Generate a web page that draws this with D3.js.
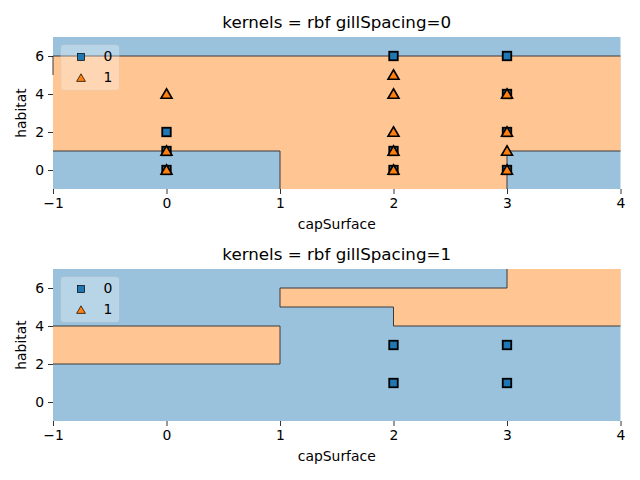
<!DOCTYPE html>
<html><head><meta charset="utf-8">
<script src="https://cdn.jsdelivr.net/npm/d3@7"></script>
<style>body{margin:0;background:#fff}svg{display:block;font-family:"DejaVu Sans",sans-serif}</style>
</head><body>
<script>
// ---- data ----
const titles = ["kernels = rbf gillSpacing=0", "kernels = rbf gillSpacing=1"];
const xLabel = "capSurface";
const yLabel = "habitat";
const xTicks = [-1, 0, 1, 2, 3, 4];
const yTicks = [0, 2, 4, 6];
const xDomain = [-1, 4];
const yDomain = [-1, 7];
const legendLabels = ["0", "1"];

// panel 1 (gillSpacing=0)
const p1Class0 = [[0,2],[0,1],[0,0],[2,6],[2,1],[2,0],[3,6],[3,4],[3,2],[3,0]];
const p1Class1 = [[0,4],[0,1],[0,0],[2,5],[2,4],[2,2],[2,1],[2,0],[3,4],[3,2],[3,1],[3,0]];
const p1Region1 = [[[-1,1],[1,1],[1,-1],[3,-1],[3,1],[4,1],[4,6],[-1,6]]];
const p1Edges = [
  [[-1,6],[4,6]], [[-1,5],[-1,6]],
  [[-1,1],[1,1],[1,-1]], [[3,-1],[3,1],[4,1]]
];
// panel 2 (gillSpacing=1)
const p2Class0 = [[2,3],[2,1],[3,3],[3,1]];
const p2Class1 = [];
const p2Region1 = [
  [[-1,2],[1,2],[1,4],[-1,4]],
  [[1,5],[1,6],[3,6],[3,7],[4,7],[4,4],[2,4],[2,5]]
];
const p2Edges = [
  [[-1,2],[1,2],[1,4],[-1,4]],
  [[4,4],[2,4],[2,5],[1,5],[1,6],[3,6],[3,7]]
];

// ---- drawing ----
const W = 640, H = 480;
const svg = d3.select("body").append("svg").attr("width", W).attr("height", H);
const blueFill = "#9ac2dd", orangeFill = "#ffc592";
const blue = "#1f77b4", orange = "#ff7f0e";

const panels = [
  {top: 37, bottom: 189, c0: p1Class0, c1: p1Class1, regions: p1Region1, edges: p1Edges, title: titles[0]},
  {top: 269, bottom: 421, c0: p2Class0, c1: p2Class1, regions: p2Region1, edges: p2Edges, title: titles[1]}
];
const left = 53, right = 620.5;

const triPath = (s) => { const h = s * 0.5; return `M0,${-h*1.05}L${h*1.1},${h*0.85}L${-h*1.1},${h*0.85}Z`; };

panels.forEach((p, i) => {
  const x = d3.scaleLinear().domain(xDomain).range([left, right]);
  const y = d3.scaleLinear().domain(yDomain).range([p.bottom, p.top]);
  const g = svg.append("g");
  const line = d3.line().x(d => x(d[0])).y(d => y(d[1]));

  g.append("rect").attr("x", x(xDomain[0])).attr("y", y(yDomain[1]))
    .attr("width", x(xDomain[1]) - x(xDomain[0])).attr("height", y(yDomain[0]) - y(yDomain[1]))
    .attr("fill", blueFill);
  p.regions.forEach(r => g.append("path").attr("d", line(r) + "Z").attr("fill", orangeFill));
  p.edges.forEach(e => g.append("path").attr("d", line(e)).attr("fill", "none")
    .attr("stroke", "#3a3a3a").attr("stroke-width", 1));

  // axes
  const xa = g.append("g").attr("transform", `translate(0,${p.bottom})`)
    .call(d3.axisBottom(x).tickValues(xTicks).tickSize(5).tickPadding(4)
      .tickFormat(d => d < 0 ? "\u2212" + Math.abs(d) : d));
  const ya = g.append("g").attr("transform", `translate(${left},0)`)
    .call(d3.axisLeft(y).tickValues(yTicks).tickSize(5).tickPadding(4));
  [xa, ya].forEach(a => {
    a.select(".domain").remove();
    a.selectAll("line").attr("stroke", "#000").attr("stroke-width", 0.8);
    a.selectAll("text").attr("font-size", 13.9).attr("fill", "#000").attr("font-family", "DejaVu Sans");
  });

  // points
  const sq = 8.5;
  g.selectAll(".c0").data(p.c0).join("rect")
    .attr("x", d => x(d[0]) - sq/2).attr("y", d => y(d[1]) - sq/2)
    .attr("width", sq).attr("height", sq)
    .attr("fill", blue).attr("stroke", "#000").attr("stroke-width", 1.8);
  g.selectAll(".c1").data(p.c1).join("path")
    .attr("transform", d => `translate(${x(d[0])},${y(d[1])})`)
    .attr("d", triPath(10))
    .attr("fill", orange).attr("stroke", "#000").attr("stroke-width", 1.6).attr("stroke-linejoin", "miter");

  // title and labels
  svg.append("text").attr("x", (left + right) / 2).attr("y", p.top - 9)
    .attr("text-anchor", "middle").attr("font-size", 16.7).text(p.title);
  svg.append("text").attr("x", (left + right) / 2).attr("y", p.bottom + 40)
    .attr("text-anchor", "middle").attr("font-size", 13.9).text(xLabel);
  svg.append("text").attr("transform", `translate(26,${(p.top + p.bottom) / 2}) rotate(-90)`)
    .attr("text-anchor", "middle").attr("font-size", 13.9).text(yLabel);

  // legend
  const lg = svg.append("g").attr("transform", `translate(61,${p.top + 8})`);
  lg.append("rect").attr("x", 0).attr("y", 0).attr("width", 58).attr("height", 45)
    .attr("rx", 3).attr("fill", "#fff").attr("fill-opacity", 0.3)
    .attr("stroke", "#cccccc").attr("stroke-opacity", 0.3).attr("stroke-width", 1);
  lg.append("rect").attr("x", 20 - 3.5).attr("y", 12 - 3.5).attr("width", 7).attr("height", 7)
    .attr("fill", blue).attr("stroke", "#000").attr("stroke-width", 0.7);
  lg.append("path").attr("transform", "translate(20,33)").attr("d", triPath(8))
    .attr("fill", orange).attr("stroke", "#000").attr("stroke-width", 0.7);
  legendLabels.forEach((t, k) => lg.append("text").attr("x", 47).attr("y", 16 + k * 21)
    .attr("text-anchor", "middle").attr("font-size", 13.9).text(t));
});
</script>
</body></html>
